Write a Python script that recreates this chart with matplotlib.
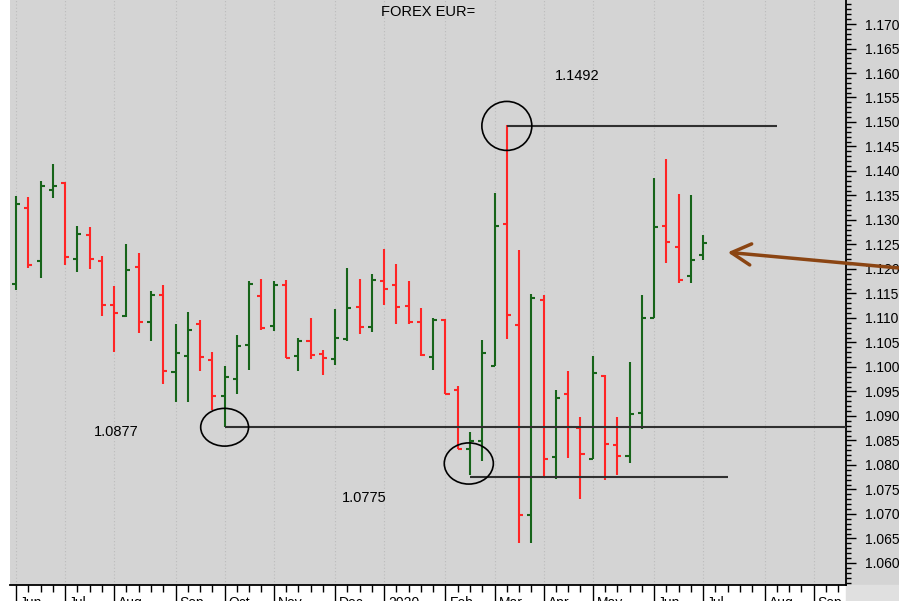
import numpy as np
import pandas as pd
import matplotlib
matplotlib.use("Agg")
import matplotlib.pyplot as plt
import matplotlib.transforms as mtransforms
from matplotlib.patches import Ellipse, Rectangle
from matplotlib.ticker import MultipleLocator, FormatStrFormatter, FixedLocator, NullFormatter

plt.rcParams['font.family'] = ['Liberation Sans', 'DejaVu Sans']

# --- DATA (weekly EUR= bars; weeks end on Friday) ---
FIRST_WEEK = "2019-06-07"
N_WEEKS_SHOWN = 68  # axis runs on past the last bar

opens = [1.1170, 1.1324, 1.1216, 1.1361, 1.1376, 1.1221, 1.1269, 1.1217, 1.1127, 1.1104,
         1.1204, 1.1091, 1.1146, 1.0990, 1.1023, 1.1087, 1.1015, 1.0940, 1.0976, 1.1044,
         1.1144, 1.1084, 1.1167, 1.1023, 1.1052, 1.1027, 1.1016, 1.1057, 1.1123, 1.1081,
         1.1175, 1.1168, 1.1125, 1.1091, 1.1020, 1.1095, 1.0952, 1.0832, 1.0848, 1.1003,
         1.1292, 1.1086, 1.0697, 1.1136, 1.0817, 1.0945, 1.0876, 1.0812, 1.0982, 1.0840,
         1.0819, 1.0906, 1.1100, 1.1288, 1.1245, 1.1185, 1.1228]
highs = [1.1348, 1.1346, 1.1380, 1.1414, 1.1377, 1.1288, 1.1286, 1.1227, 1.1165, 1.1252,
         1.1233, 1.1155, 1.1168, 1.1087, 1.1112, 1.1095, 1.1030, 1.1003, 1.1065, 1.1175,
         1.1180, 1.1175, 1.1178, 1.1060, 1.1100, 1.1035, 1.1119, 1.1202, 1.1179, 1.1189,
         1.1241, 1.1211, 1.1175, 1.1121, 1.1099, 1.1097, 1.0962, 1.0868, 1.1056, 1.1356,
         1.1494, 1.1238, 1.1149, 1.1146, 1.0954, 1.0992, 1.0898, 1.1022, 1.0983, 1.0898,
         1.1010, 1.1146, 1.1385, 1.1424, 1.1354, 1.1350, 1.1269]
lows = [1.1158, 1.1202, 1.1182, 1.1344, 1.1208, 1.1194, 1.1200, 1.1104, 1.1030, 1.1103,
        1.1070, 1.1053, 1.0965, 1.0928, 1.0928, 1.0991, 1.0912, 1.0878, 1.0944, 1.0994,
        1.1076, 1.1074, 1.1018, 1.0991, 1.1017, 1.0983, 1.1004, 1.1054, 1.1067, 1.1072,
        1.1126, 1.1088, 1.1087, 1.1023, 1.0993, 1.0945, 1.0832, 1.0780, 1.0809, 1.1002,
        1.1057, 1.0640, 1.0640, 1.0776, 1.0771, 1.0815, 1.0730, 1.0812, 1.0770, 1.0780,
        1.0804, 1.0874, 1.1100, 1.1213, 1.1172, 1.1172, 1.1219]
closes = [1.1332, 1.1208, 1.1369, 1.1369, 1.1224, 1.1272, 1.1221, 1.1127, 1.1110, 1.1198,
          1.1091, 1.1146, 1.0992, 1.1029, 1.1075, 1.1020, 1.0940, 1.0979, 1.1042, 1.1170,
          1.1080, 1.1167, 1.1018, 1.1052, 1.1024, 1.1018, 1.1060, 1.1120, 1.1081, 1.1178,
          1.1160, 1.1123, 1.1091, 1.1025, 1.1095, 1.0945, 1.0832, 1.0848, 1.1029, 1.1288,
          1.1107, 1.0697, 1.1141, 1.0812, 1.0937, 1.0878, 1.0822, 1.0988, 1.0843, 1.0819,
          1.0903, 1.1100, 1.1285, 1.1256, 1.1177, 1.1219, 1.1254]

# marked levels: price, week it starts at, week it ends at
LEVEL_HIGH, LEVEL_HIGH_FROM, LEVEL_HIGH_TO = 1.1492, "2020-03-13", "2020-08-14"
LEVEL_MID, LEVEL_MID_FROM = 1.0877, "2019-10-04"
LEVEL_LOW, LEVEL_LOW_FROM, LEVEL_LOW_TO = 1.0775, "2020-02-21", "2020-07-17"
ARROW_TIP_WEEK, ARROW_TIP_LEVEL = "2020-07-17", 1.1234

# --- STYLE ---
BG = "#d4d4d4"
UP = "#17641a"
DOWN = "#ff2525"
Y_MIN, Y_MAX = 1.0555, 1.1749

weeks = pd.date_range(FIRST_WEEK, periods=N_WEEKS_SHOWN, freq="W-FRI")


def wk(d):
    return int(np.where(weeks == pd.Timestamp(d))[0][0])


x = np.arange(len(opens))
colors = [UP if c >= o else DOWN for o, c in zip(opens, closes)]
half = 0.33  # open/close tick length in weeks

fig = plt.figure(figsize=(8.99, 6.01), dpi=100, facecolor="white")
ax = fig.add_axes([10 / 899, 16 / 601, 836 / 899, 585 / 601])
ax.set_facecolor(BG)
fig.patches.append(Rectangle((846 / 899, 16 / 601), 53 / 899, 585 / 601,
                             transform=fig.transFigure, color=BG, zorder=-1))
fig.patches.append(Rectangle((846 / 899, 0), 53 / 899, 16 / 601,
                             transform=fig.transFigure, color="#e0e0e0", zorder=-1))

# OHLC bars
ax.vlines(x, lows, highs, colors=colors, lw=1.5, zorder=3)
ax.hlines(opens, x - half, x, colors=colors, lw=1.5, zorder=3)
ax.hlines(closes, x, x + half, colors=colors, lw=1.5, zorder=3)

X_MIN, X_MAX = -0.49, N_WEEKS_SHOWN - 0.36
ax.set_xlim(X_MIN, X_MAX)
ax.set_ylim(Y_MIN, Y_MAX)

# marked levels and circles
line_kw = dict(color="#303030", lw=1.5, zorder=4)
ax.hlines(LEVEL_HIGH, wk(LEVEL_HIGH_FROM), wk(LEVEL_HIGH_TO), **line_kw)
ax.hlines(LEVEL_MID, wk(LEVEL_MID_FROM), X_MAX, **line_kw)
ax.hlines(LEVEL_LOW, wk(LEVEL_LOW_FROM), wk(LEVEL_LOW_TO), **line_kw)

circ_kw = dict(fill=False, ec="black", lw=1.2, zorder=4)
ax.add_patch(Ellipse((wk(LEVEL_HIGH_FROM), LEVEL_HIGH), 4.07, 0.0100, **circ_kw))
ax.add_patch(Ellipse((wk(LEVEL_MID_FROM), LEVEL_MID), 3.9, 0.0077, **circ_kw))
ax.add_patch(Ellipse((wk(LEVEL_LOW_FROM) - 0.1, LEVEL_LOW + 0.0028), 4.0, 0.0084, **circ_kw))

ax.text(0.679, 0.870, f"{LEVEL_HIGH:.4f}", transform=ax.transAxes, ha="center", va="center", fontsize=10.5)
ax.text(0.127, 0.2615, f"{LEVEL_MID:.4f}", transform=ax.transAxes, ha="center", va="center", fontsize=10.5)
ax.text(0.4234, 0.1487, f"{LEVEL_LOW:.4f}", transform=ax.transAxes, ha="center", va="center", fontsize=10.5)
ax.text(0.5, 0.9795, "FOREX EUR=", transform=ax.transAxes, ha="center", va="center", fontsize=10.5)

# brown arrow pointing at the last bar
ax.annotate("", xy=(wk(ARROW_TIP_WEEK), ARROW_TIP_LEVEL), xycoords="data",
            xytext=(1.0, 1 - 268 / 601), textcoords="figure fraction",
            arrowprops=dict(arrowstyle="->,head_length=0.7,head_width=0.38",
                            color="#8b4513", lw=2.5, mutation_scale=20,
                            shrinkA=0, shrinkB=0),
            annotation_clip=False, zorder=6)

# spines
for side in ["left", "top"]:
    ax.spines[side].set_visible(False)
for side in ["bottom", "right"]:
    ax.spines[side].set_color("black")
    ax.spines[side].set_linewidth(1.3)

# x axis: a long tick at the first week of each month, short ticks for the other weeks
new_month = [i for i in range(len(weeks)) if i == 0 or weeks[i].month != weeks[i - 1].month]
other_weeks = [i for i in range(len(weeks)) if i not in new_month]
month_labels = [weeks[i].strftime("%Y") if weeks[i].month == 1 else weeks[i].strftime("%b")
                for i in new_month]
ax.xaxis.set_major_locator(FixedLocator(new_month))
ax.xaxis.set_minor_locator(FixedLocator(other_weeks))
ax.xaxis.set_major_formatter(NullFormatter())
ax.tick_params(axis="x", which="major", length=16, width=1, direction="out")
ax.tick_params(axis="x", which="minor", length=5, width=1, direction="out")
ax.grid(axis="x", which="major", linestyle=(0, (1, 2)), color="#bcbcbc", lw=0.8)
ax.set_axisbelow(True)

offset = mtransforms.ScaledTranslation(4 / 100, -11 / 100, fig.dpi_scale_trans)
lab_trans = mtransforms.blended_transform_factory(ax.transData, ax.transAxes) + offset
for mx, lab in zip(new_month, month_labels):
    ax.text(mx, 0, lab, transform=lab_trans, ha="left", va="top", fontsize=10, clip_on=False)

# y axis on the right
ax.yaxis.tick_right()
ax.yaxis.set_major_locator(MultipleLocator(0.005))
ax.yaxis.set_minor_locator(MultipleLocator(0.001))
ax.yaxis.set_major_formatter(FormatStrFormatter("%.3f"))
ax.tick_params(axis="y", which="major", length=7, width=1, pad=7, labelsize=10)
ax.tick_params(axis="y", which="minor", length=3.5, width=1)

fig.savefig("out.png", dpi=100, facecolor=fig.get_facecolor())
